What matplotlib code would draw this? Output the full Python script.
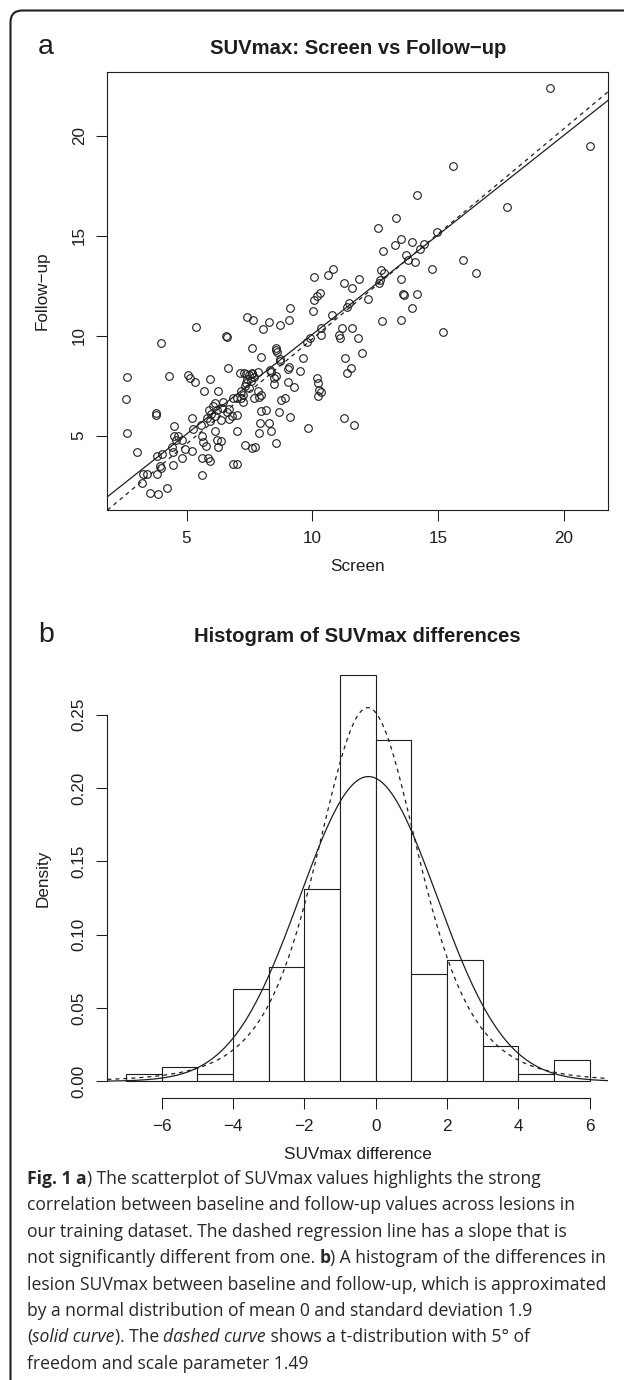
import math
import numpy as np
import matplotlib
matplotlib.use('Agg')
import matplotlib.pyplot as plt
from matplotlib.patches import FancyBboxPatch
from matplotlib.transforms import IdentityTransform

plt.rcParams['font.family'] = ['Liberation Sans', 'DejaVu Sans']

INK = '#1e1e1e'

# --- panel a: SUVmax per lesion, screen vs follow-up ---
screen = [
    19.46, 21.04, 15.6, 17.74, 14.18, 13.35, 12.61, 14.98, 13.53, 13.31, 13.99, 12.82, 14.45, 14.3,
    13.72, 13.8, 14.08, 16.0, 16.5, 14.75, 12.74, 12.87, 13.53, 12.69, 12.64, 10.82, 10.62, 10.08,
    11.85, 11.28, 11.6, 13.6, 13.65, 14.18, 13.97, 12.23, 10.33, 10.2, 10.06, 11.46, 11.38, 10.02,
    9.13, 9.08, 8.72, 8.29, 8.05, 7.39, 7.63, 10.79, 11.17, 11.59, 12.78, 13.52, 10.37, 15.19, 5.38,
    10.35, 9.9, 9.8, 11.05, 11.1, 11.84, 11.97, 11.3, 11.53, 11.39, 9.63, 9.51, 9.28, 10.2, 10.25,
    10.28, 10.35, 10.25, 11.27, 11.67, 9.84,
    9.07, 9.05, 9.05, 8.5, 8.56, 8.48, 8.32, 8.36, 8.7, 8.72, 8.56, 8.58, 8.62, 7.95, 7.59, 8.9,
    8.74, 9.1, 8.67, 7.96, 8.16, 7.92, 8.29, 7.89, 8.38, 8.58, 7.85, 7.86, 7.97, 7.88, 7.68,
    7.12, 7.28, 7.47, 7.59, 7.7, 7.42, 7.55, 7.36, 7.31, 7.47, 7.17, 7.26, 7.18, 7.23, 7.6, 7.35,
    6.57, 6.6, 6.66, 5.93, 5.69, 6.26, 6.06, 6.13, 6.46, 5.9, 6.2, 5.99, 6.13, 6.4, 6.7, 6.62, 6.86,
    6.99, 6.79, 7.02, 5.8, 5.93, 6.36, 6.7, 5.6, 6.13, 6.22, 6.36, 6.26, 5.66, 5.77, 5.6, 5.86,
    5.93, 5.6, 6.86, 7.02, 6.99, 7.32, 7.59, 7.72, 5.57,
    3.98, 2.62, 4.32, 5.06, 5.12, 5.33, 2.59, 3.77, 3.8, 2.62, 3.04, 5.23, 4.51, 5.27, 4.52, 4.66,
    4.58, 4.83, 4.41, 4.47, 4.94, 5.2, 4.01, 3.81, 4.83, 4.47, 3.95, 3.98, 3.81, 3.28, 3.41, 3.21,
    3.54, 3.87, 4.21,
]
follow_up = [
    22.38, 19.5, 18.47, 16.43, 17.01, 15.87, 15.39, 15.18, 14.85, 14.55, 14.66, 14.24, 14.58, 14.35,
    14.04, 13.8, 13.66, 13.8, 13.14, 13.34, 13.3, 13.15, 12.85, 12.77, 12.63, 13.34, 13.04, 12.92,
    12.85, 12.63, 12.38, 12.06, 12.03, 12.1, 11.4, 11.81, 12.11, 11.96, 11.8, 11.64, 11.44, 11.22,
    11.38, 10.79, 10.52, 10.69, 10.32, 10.94, 10.78, 11.04, 10.4, 10.4, 10.74, 10.78, 10.4, 10.17, 10.44,
    10.03, 9.9, 9.66, 10.05, 9.9, 9.88, 9.12, 8.89, 8.4, 8.15, 8.86, 8.22, 7.43, 7.89, 7.64,
    7.26, 7.2, 7.0, 5.9, 5.55, 5.38,
    8.43, 8.31, 7.68, 7.6, 7.98, 7.9, 8.3, 8.18, 8.84, 8.74, 9.4, 9.3, 9.2, 8.95, 9.4, 6.88,
    6.76, 5.93, 6.17, 6.22, 6.26, 5.63, 5.63, 5.13, 5.22, 4.63, 8.18, 7.25, 7.02, 6.95, 6.9,
    8.13, 8.13, 8.02, 8.08, 7.92, 7.85, 7.75, 7.63, 7.47, 7.38, 7.22, 7.05, 6.88, 6.68, 8.15, 8.1,
    9.99, 9.95, 8.37, 7.84, 7.22, 7.22, 6.5, 6.64, 6.67, 6.3, 6.3, 6.1, 6.0, 6.39, 6.34, 6.17, 6.89,
    6.89, 5.97, 6.05, 5.88, 5.72, 5.8, 5.83, 4.97, 5.22, 4.8, 4.71, 4.43, 4.66, 4.5, 3.87, 3.87,
    3.71, 3.04, 3.59, 3.59, 5.22, 4.55, 4.38, 4.41, 5.55,
    9.62, 7.95, 7.98, 8.05, 7.9, 7.68, 6.81, 6.13, 6.05, 5.14, 4.2, 5.88, 5.47, 5.33, 5.0, 4.98,
    4.78, 4.8, 4.43, 4.16, 4.33, 4.21, 4.1, 3.96, 3.87, 3.51, 3.47, 3.4, 3.09, 3.09, 3.09, 2.65,
    2.15, 2.09, 2.37,
]
# straight lines drawn over the scatter: (intercept, slope)
solid_line = (0.10, 0.995)
dashed_line = (-0.67, 1.05)

# --- panel b: histogram of the differences ---
bin_edges = [-7, -6, -5, -4, -3, -2, -1, 0, 1, 2, 3, 4, 5, 6]
bin_counts = [1, 2, 1, 13, 16, 27, 57, 48, 15, 17, 5, 1, 3]
norm_mean, norm_sd = -0.2, 1.92
t_loc, t_scale, t_df = -0.22, 1.49, 5

caption_lines = [
    [("Fig. 1 a", "bold"), (") The scatterplot of SUVmax values highlights the strong", "normal")],
    [("correlation between baseline and follow-up values across lesions in", "normal")],
    [("our training dataset. The dashed regression line has a slope that is", "normal")],
    [("not significantly different from one. ", "normal"), ("b", "bold"),
     (") A histogram of the differences in", "normal")],
    [("lesion SUVmax between baseline and follow-up, which is approximated", "normal")],
    [("by a normal distribution of mean 0 and standard deviation 1.9", "normal")],
    [("(", "normal"), ("solid curve", "italic"), ("). The ", "normal"), ("dashed curve", "italic"),
     (" shows a t-distribution with 5\u00b0 of", "normal")],
    [("freedom and scale parameter 1.49", "normal")],
]

W, H = 624, 1380
fig = plt.figure(figsize=(W / 100, H / 100), dpi=100)
fig.patch.set_facecolor('white')


def r_range(vals):
    lo, hi = min(vals), max(vals)
    pad = 0.04 * (hi - lo)
    return lo - pad, hi + pad


def style_axis(ax):
    ax.tick_params(direction='out', length=7.6, width=0.75, colors=INK, labelsize=12.3, pad=7.6)
    ax.tick_params(axis='y', labelrotation=90, pad=7.3)
    for lbl in ax.get_yticklabels():
        lbl.set_va('center')


# ---------- a ----------
ax1 = fig.add_axes([0.1721, 0.6304, 0.8026, 0.3176])
ax1.plot(screen, follow_up, 'o', mfc='none', mec=INK, ms=5.5, mew=0.8)
ax1.set_xlim(*r_range(screen))
ax1.set_ylim(*r_range(follow_up))
xx = np.array(ax1.get_xlim())
ax1.plot(xx, solid_line[0] + solid_line[1] * xx, color=INK, lw=0.9)
ax1.plot(xx, dashed_line[0] + dashed_line[1] * xx, color=INK, lw=0.9, ls=(0, (3.2, 3.2)))
ax1.set_xticks([5, 10, 15, 20])
ax1.set_yticks([5, 10, 15, 20])
for s in ax1.spines.values():
    s.set_linewidth(0.8)
    s.set_color(INK)
style_axis(ax1)
ax1.set_xlabel('Screen', fontsize=12.3, color=INK)
ax1.set_ylabel('Follow\u2212up', fontsize=12.3, color=INK)
ax1.xaxis.set_label_coords(0.5, -0.112)
ax1.yaxis.set_label_coords(-0.1146, 0.5)
ax1.text(0.5, 1.0404, 'SUVmax: Screen vs Follow\u2212up', transform=ax1.transAxes,
         ha='center', va='baseline', fontsize=14.6, fontweight='bold', color=INK)

# ---------- b ----------
ax2 = fig.add_axes([0.1721, 0.2047, 0.8026, 0.3176])
edges = np.array(bin_edges, dtype=float)
counts = np.array(bin_counts, dtype=float)
dens = counts / (counts.sum() * np.diff(edges))
ax2.bar(edges[:-1], dens, width=np.diff(edges), align='edge', facecolor='white',
        edgecolor=INK, linewidth=0.8)
ax2.set_xlim(*r_range(bin_edges))
ax2.set_ylim(-0.04 * dens.max(), 1.04 * dens.max())

xs = np.linspace(*ax2.get_xlim(), 400)
normal_pdf = np.exp(-0.5 * ((xs - norm_mean) / norm_sd) ** 2) / (norm_sd * math.sqrt(2 * math.pi))
c = math.gamma((t_df + 1) / 2) / (math.sqrt(t_df * math.pi) * math.gamma(t_df / 2))
t_pdf = c * (1 + ((xs - t_loc) / t_scale) ** 2 / t_df) ** (-(t_df + 1) / 2) / t_scale
ax2.plot(xs, normal_pdf, color=INK, lw=0.9)
ax2.plot(xs, t_pdf, color=INK, lw=0.9, ls=(0, (3.2, 3.2)))

ax2.set_xticks([-6, -4, -2, 0, 2, 4, 6])
ax2.set_yticks([0, 0.05, 0.10, 0.15, 0.20, 0.25])
ax2.set_yticklabels(['0.00', '0.05', '0.10', '0.15', '0.20', '0.25'])
ax2.spines['top'].set_visible(False)
ax2.spines['right'].set_visible(False)
ax2.spines['bottom'].set_bounds(-6, 6)
ax2.spines['left'].set_bounds(0, 0.25)
for s in ('bottom', 'left'):
    ax2.spines[s].set_linewidth(0.8)
    ax2.spines[s].set_color(INK)
style_axis(ax2)
ax2.set_xlabel('SUVmax difference', fontsize=12.3, color=INK)
ax2.set_ylabel('Density', fontsize=12.3, color=INK)
ax2.xaxis.set_label_coords(0.5, -0.113)
ax2.yaxis.set_label_coords(-0.113, 0.5)
ax2.text(0.5, 1.04, 'Histogram of SUVmax differences', transform=ax2.transAxes,
         ha='center', va='baseline', fontsize=14.6, fontweight='bold', color=INK)


def px(x, y):
    return x / W, 1 - y / H


fig.text(*px(38, 54), 'a', fontsize=20.5, color=INK, va='baseline')
fig.text(*px(38, 641.7), 'b', fontsize=20.5, color=INK, va='baseline')

# ---------- caption ----------
renderer = fig.canvas.get_renderer()
cap_font = ['Open Sans', 'DejaVu Sans']
cap_size = 12.65


def advance(text, style):
    kw = dict(fontsize=cap_size, family=cap_font)
    if style == 'bold':
        kw['fontweight'] = 'bold'
    if style == 'italic':
        kw['fontstyle'] = 'italic'
    a = fig.text(0, 0, text + 'x', **kw)
    b = fig.text(0, 0, 'x', **kw)
    w = a.get_window_extent(renderer).width - b.get_window_extent(renderer).width
    a.remove()
    b.remove()
    return w, kw


for i, runs in enumerate(caption_lines):
    y = H - (1184 + 26.4 * i)
    x = 27
    for text, style in runs:
        w, kw = advance(text, style)
        fig.text(x, y, text, transform=IdentityTransform(), va='baseline', color='#2a2627', **kw)
        x += w

# rounded frame around the figure (right and bottom run off the page)
frame = FancyBboxPatch((10.5, H - 1392), 700, 1392 - 10.5, boxstyle='round,pad=0,rounding_size=12',
                       transform=IdentityTransform(), fill=False, edgecolor='#231f20', linewidth=1.5)
fig.patches.append(frame)

fig.savefig('out.png', dpi=100, facecolor='white')
